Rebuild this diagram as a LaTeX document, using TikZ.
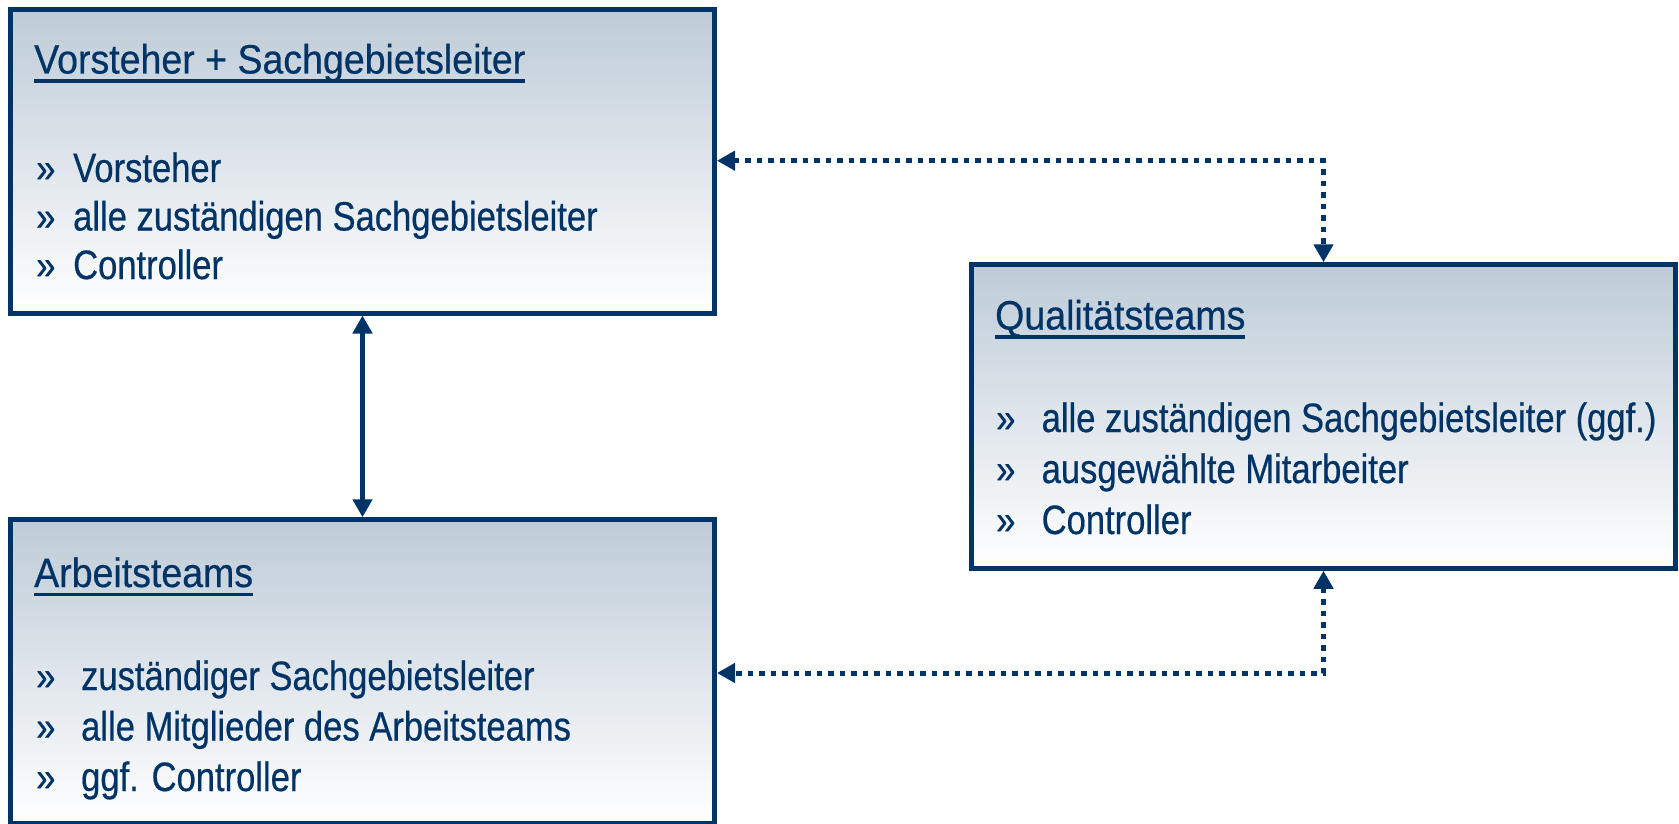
\documentclass[tikz,border=0pt]{standalone}
\usepackage{fontspec}
\setmainfont{Liberation Sans}
\newfontfamily\titlefont{Liberation Sans}[FakeStretch=0.915,FakeBold=0.5]
\newfontfamily\bodyfont{Liberation Sans}[FakeStretch=0.843,FakeBold=0.5]
\usetikzlibrary{arrows.meta}
\definecolor{navy}{RGB}{0,51,102}
\definecolor{boxtop}{RGB}{190,203,215}
\newcommand\ulin[1]{\setbox0=\hbox{#1}\rlap{\rule[-9.4pt]{\wd0}{3.8pt}}\box0}
\newcommand\bul[2]{\makebox[#1][l]{»}#2}
\tikzset{
  box/.style={rectangle, draw=navy, line width=5pt, top color=boxtop, bottom color=white,
    minimum width=704pt, minimum height=303.5pt, inner sep=0pt},
  boxtitle/.style={anchor=base west, inner sep=0pt, text=navy, font=\titlefont\fontsize{41}{49}\selectfont},
  item/.style={anchor=base west, inner sep=0pt, text=navy, font=\bodyfont\fontsize{41}{49}\selectfont},
  link/.style={draw=navy, line width=5pt, {Triangle[width=19pt,length=18pt]}-{Triangle[width=19pt,length=18pt]}},
  dotlink/.style={link, line width=5pt, dash pattern=on 5.5pt off 6pt}
}
\begin{document}
\begin{tikzpicture}[x=1pt,y=-1pt]
\useasboundingbox (0,0) rectangle (1679,824);
\node[box] (b1) at (362.5,161.25) {};
\node[box] (b2) at (362.5,671.5) {};
\node[box] (b3) at (1323.5,416.5) {};

\node[boxtitle] (h1) at (34,73.5) {\ulin{Vorsteher + Sachgebietsleiter}};
\node[item] (i11) at (36,182) {\bul{37pt}{Vorsteher}};
\node[item] (i12) at (36,230.5) {\bul{37pt}{alle zuständigen Sachgebietsleiter}};
\node[item] (i13) at (36,279) {\bul{37pt}{Controller}};

\node[boxtitle] (h3) at (995,329.5) {\ulin{Qualitätsteams}};
\node[item] (i31) at (996,432) {\bul{45.5pt}{alle zuständigen Sachgebietsleiter (ggf.)}};
\node[item] (i32) at (996,483) {\bul{45.5pt}{ausgewählte Mitarbeiter}};
\node[item] (i33) at (996,534) {\bul{45.5pt}{Controller}};

\node[boxtitle] (h2) at (34,587) {\ulin{Arbeitsteams}};
\node[item] (i21) at (36,690) {\bul{45pt}{zuständiger Sachgebietsleiter}};
\node[item] (i22) at (36,740.5) {\bul{45pt}{alle Mitglieder des Arbeitsteams}};
\node[item] (i23) at (36,791) {\bul{45pt}{ggf. Controller}};

\draw[link] (b1.south) -- (b2.north);
\coordinate (y1) at (0,160.7);
\coordinate (c1) at (b3.north |- y1);
\draw[dotlink] (b1.east |- c1) -- (c1) -- (b3.north);
\coordinate (y2) at (0,673);
\coordinate (c2) at (b3.south |- y2);
\draw[dotlink] (b3.south) -- (c2) -- (b2.east |- c2);
\end{tikzpicture}
\end{document}
